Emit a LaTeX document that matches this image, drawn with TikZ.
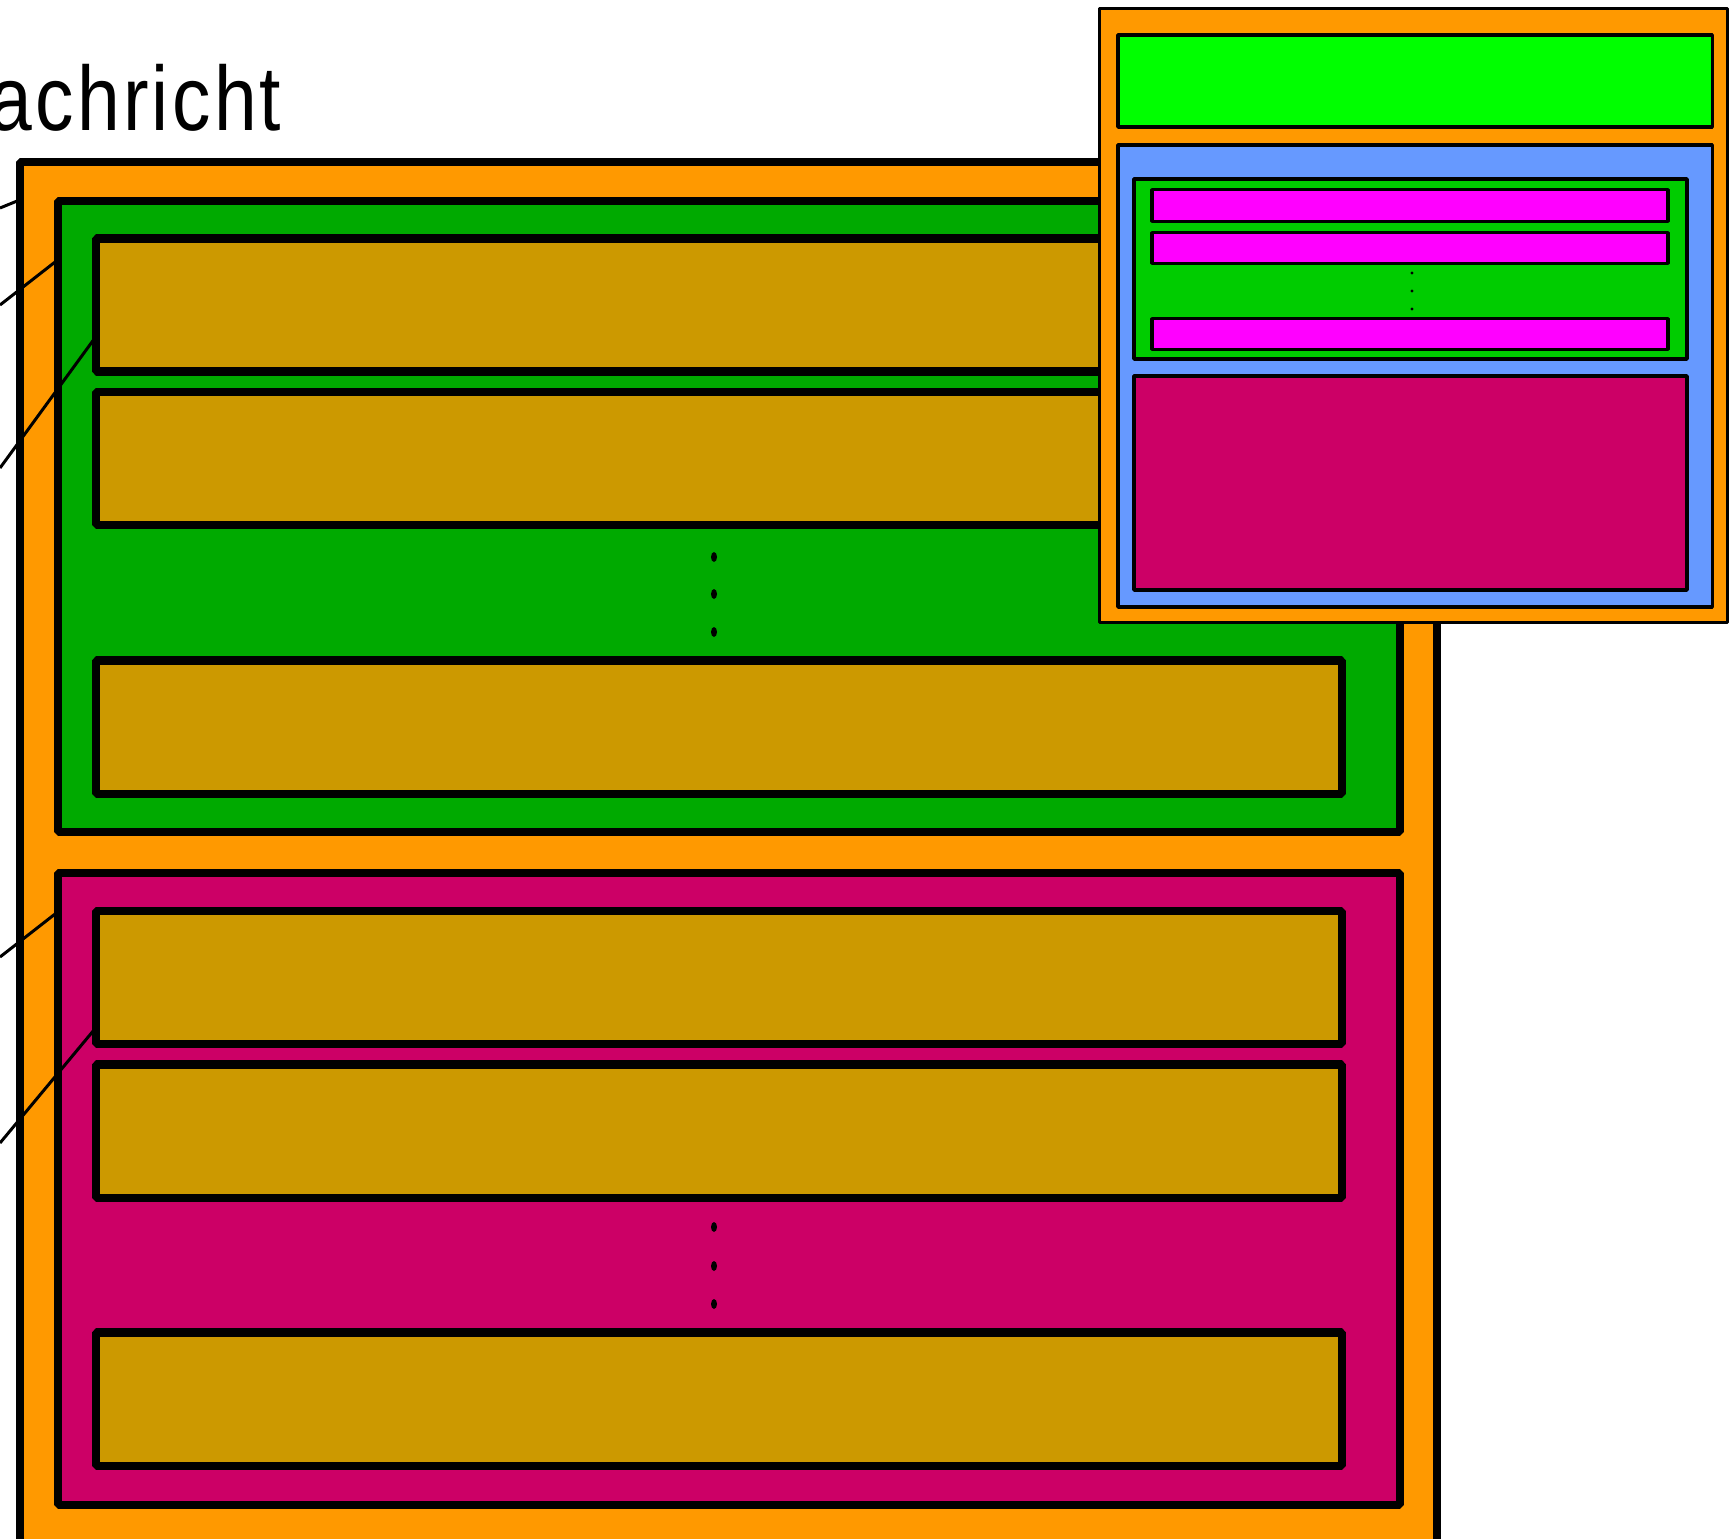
\documentclass[tikz,border=0pt]{standalone}
\usepackage{fontspec}
\setmainfont{Liberation Sans}
\newfontfamily\titlefont[FakeStretch=0.84,LetterSpace=3.6]{Liberation Sans}
\usepackage{tikz}
\definecolor{msgorange}{HTML}{FF9900}
\definecolor{grpgreen}{HTML}{00AA00}
\definecolor{fieldtan}{HTML}{CC9900}
\definecolor{grpred}{HTML}{CC0066}
\definecolor{headgreen}{HTML}{00FF00}
\definecolor{bodyblue}{HTML}{6699FF}
\definecolor{listgreen}{HTML}{00CC00}
\definecolor{barpink}{HTML}{FF00FF}

\begin{document}
\begin{tikzpicture}[x=0.01cm,y=-0.01cm,line join=bevel]
  \tikzstyle{frame}=[draw,line width=2.3pt,inner sep=0pt,outer sep=0pt]
  \tikzstyle{field}=[frame,fill=fieldtan,minimum width=12.46cm,minimum height=1.33cm]
  \tikzstyle{thin}=[draw,line width=0.95pt,inner sep=0pt,outer sep=0pt]
  \tikzstyle{bar}=[thin,fill=barpink,minimum width=5.16cm,minimum height=0.315cm]
  \tikzstyle{link}=[line width=0.85pt]
  \useasboundingbox (0,0) rectangle (1735,1539);
  \clip (0,0) rectangle (1735,1539);
  \node[anchor=base west,inner sep=0pt,font=\titlefont\fontsize{26}{30}\selectfont] (title) at (-70,130) {Nachricht};
  % message
  \node[frame,fill=msgorange,minimum width=14.17cm,minimum height=14.4cm] (msg) at (728.5,882) {};
  \node[frame,fill=grpgreen,minimum width=13.42cm,minimum height=6.31cm] (grp) at (729,516.5) {};
  \node[field] (t1) at (719,305) {};
  \node[field] (t2) at (719,458.5) {};
  \node[field] (t3) at (719,727) {};
  \node[frame,fill=grpred,minimum width=13.42cm,minimum height=6.32cm] (grq) at (729,1189) {};
  \node[field] (u1) at (719,977.5) {};
  \node[field] (u2) at (719,1131) {};
  \node[field] (u3) at (719,1399) {};
  \foreach \y in {557,594,632,1227,1266,1304}
    \fill (714,\y) ellipse [x radius=0.03cm,y radius=0.05cm];
  % inset
  \node[thin,fill=msgorange,minimum width=6.27cm,minimum height=6.13cm] (box) at (1413.5,315.5) {};
  \node[thin,fill=headgreen,minimum width=5.94cm,minimum height=0.92cm] (head) at (1415,81) {};
  \node[thin,fill=bodyblue,minimum width=5.94cm,minimum height=4.62cm] (body) at (1415,376) {};
  \node[thin,fill=listgreen,minimum width=5.53cm,minimum height=1.80cm] (list) at (1410.5,269) {};
  \node[bar] (b1) at (1410,205.5) {};
  \node[bar] (b2) at (1410,248) {};
  \node[bar] (b3) at (1410,334) {};
  \node[thin,fill=grpred,minimum width=5.53cm,minimum height=2.14cm] (data) at (1410.5,483) {};
  \foreach \y in {273,291,309}
    \fill (1412,\y) circle [radius=0.016cm];
  % connectors
  \coordinate (l1) at (0,208);
  \coordinate (l2) at (0,305);
  \coordinate (l3) at (0,468);
  \coordinate (l4) at (0,957);
  \coordinate (l5) at (0,1143);
  \draw[link] (l1) -- (msg.west |- 0,200);
  \draw[link] (l2) -- (grp.west |- 0,260);
  \draw[link] (l3) -- (t1.west |- 0,337);
  \draw[link] (l4) -- (grq.west |- 0,912);
  \draw[link] (l5) -- (u1.west |- 0,1028);
\end{tikzpicture}
\end{document}
